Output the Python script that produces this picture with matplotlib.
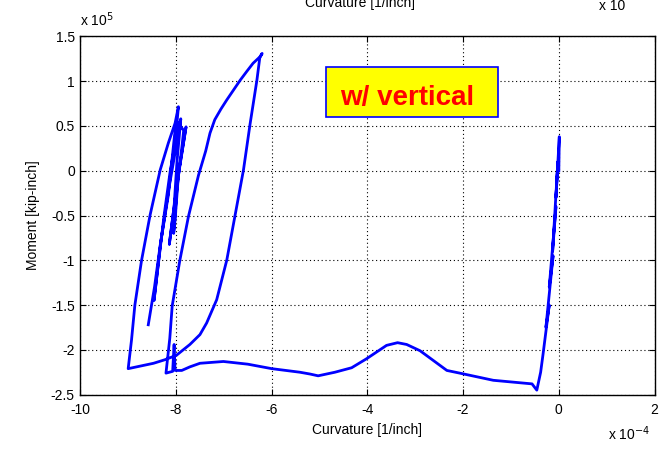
import numpy as np
import matplotlib
matplotlib.use("Agg")
import matplotlib.pyplot as plt
from matplotlib.patches import Rectangle

plt.rcParams['font.family'] = ['Liberation Sans', 'DejaVu Sans']

# curvature in units of 1e-4 1/inch, moment in units of 1e5 kip-inch
# small cycles near zero curvature
right_curv = [0.00, 0.01, -0.06, -0.02, -0.13, -0.06, -0.20, -0.12, -0.27, -0.20,
              -0.33, -0.38, -0.46]
right_mom = [0.00, 0.38, -0.30, 0.10, -0.90, -0.40, -1.30, -0.95, -1.75, -1.50,
             -2.05, -2.25, -2.45]

# long excursion along the bottom
bottom_curv = [-0.56, -1.37, -2.07, -2.34, -2.90, -3.18, -3.37, -3.60, -4.02, -4.33,
               -4.68, -5.03, -5.20, -5.41, -6.00, -6.50, -7.01, -7.50, -7.71, -7.88,
               -8.02, -8.04, -8.07, -8.21]
bottom_mom = [-2.38, -2.34, -2.26, -2.23, -2.01, -1.94, -1.92, -1.95, -2.10, -2.20,
              -2.25, -2.29, -2.27, -2.25, -2.21, -2.16, -2.13, -2.15, -2.19, -2.23,
              -2.23, -1.94, -2.24, -2.26]

# big loop, loading branch
up_curv = [-8.13, -8.08, -7.92, -7.74, -7.53, -7.38, -7.29, -7.19, -7.06, -6.94,
           -6.80, -6.66, -6.52, -6.39, -6.25, -6.20]
up_mom = [-1.87, -1.51, -1.00, -0.51, -0.05, 0.22, 0.42, 0.57, 0.69, 0.79,
          0.90, 1.01, 1.11, 1.20, 1.27, 1.31]

# big loop, unloading branch
down_curv = [-6.25, -6.31, -6.45, -6.59, -6.77, -6.94, -7.15, -7.36, -7.50, -7.71,
             -7.99, -8.23, -8.47, -9.00]
down_mom = [1.26, 1.01, 0.53, 0.01, -0.51, -1.00, -1.44, -1.70, -1.83, -1.94,
            -2.06, -2.11, -2.15, -2.21]

# cycles on the left
left_curv = [-8.93, -8.86, -8.72, -8.54, -8.33, -8.16, -8.02, -7.95,
             -8.02, -8.12, -8.25, -8.36, -8.46,
             -8.32, -8.15, -8.02, -7.90,
             -7.98, -8.04, -8.14,
             -8.04, -7.94, -7.79,
             -7.95, -8.02, -8.05,
             -7.98, -7.87, -7.84,
             -7.98, -8.03, -8.16, -8.33, -8.45, -8.58]
left_mom = [-1.89, -1.50, -1.00, -0.49, 0.01, 0.31, 0.53, 0.715,
            0.30, 0.00, -0.50, -1.00, -1.45,
            -0.80, -0.20, 0.20, 0.58,
            0.10, -0.40, -0.82,
            -0.40, 0.00, 0.49,
            -0.05, -0.55, -0.70,
            -0.20, 0.30, 0.45,
            0.55, 0.40, -0.27, -0.83, -1.30, -1.72]

curv = np.concatenate([right_curv, bottom_curv, up_curv, down_curv, left_curv])
mom = np.concatenate([right_mom, bottom_mom, up_mom, down_mom, left_mom])

xticks = [-10, -8, -6, -4, -2, 0, 2]
yticks = [-2.5, -2, -1.5, -1, -0.5, 0, 0.5, 1, 1.5]

fig = plt.figure(figsize=(6.6, 4.51), dpi=100)
ax = fig.add_axes([0.1217, 0.125, 0.87, 0.7943])

ax.plot(curv, mom, color='#0000ff', linewidth=2.0)

ax.set_xlim(-10, 2)
ax.set_ylim(-2.5, 1.5)
ax.set_xticks(xticks)
ax.set_yticks(yticks)
ax.set_xticklabels([str(t) for t in xticks])
ax.set_yticklabels(['%g' % t for t in yticks])
ax.tick_params(direction='in', top=True, right=True, length=4, width=0.8,
               labelsize=10, pad=6)
ax.tick_params(axis='y', pad=4)
ax.grid(True, color='black', linestyle=(0, (1, 2.5)), linewidth=0.8)
for s in ax.spines.values():
    s.set_linewidth(1.0)

ax.set_xlabel('Curvature [1/inch]', fontsize=10, labelpad=4)
ax.set_ylabel('Moment [kip-inch]', fontsize=10, labelpad=8)

ax.text(0.0, 1.02, r'x 10$^{5}$', transform=ax.transAxes, fontsize=10,
        ha='left', va='bottom')
ax.text(0.993, -0.128, r'x 10$^{-4}$', transform=ax.transAxes, fontsize=10,
        ha='right', va='baseline')

# yellow label box
ax.add_patch(Rectangle((0.428, 0.775), 0.2995, 0.1396, transform=ax.transAxes,
                       facecolor='#ffff00', edgecolor='#0000ff', linewidth=1.2,
                       zorder=5))
ax.text(0.570, 0.8085, 'w/ vertical', transform=ax.transAxes, color='#ff0000',
        fontsize=20, fontweight='bold', ha='center', va='baseline', zorder=6)

# cut-off labels of the panel above
fig.text(0.545, 0.985, 'Curvature [1/inch]', fontsize=10, ha='center', va='baseline')
fig.text(0.928, 0.978, 'x 10', fontsize=10, ha='center', va='baseline')

fig.savefig('out.png', dpi=100)
